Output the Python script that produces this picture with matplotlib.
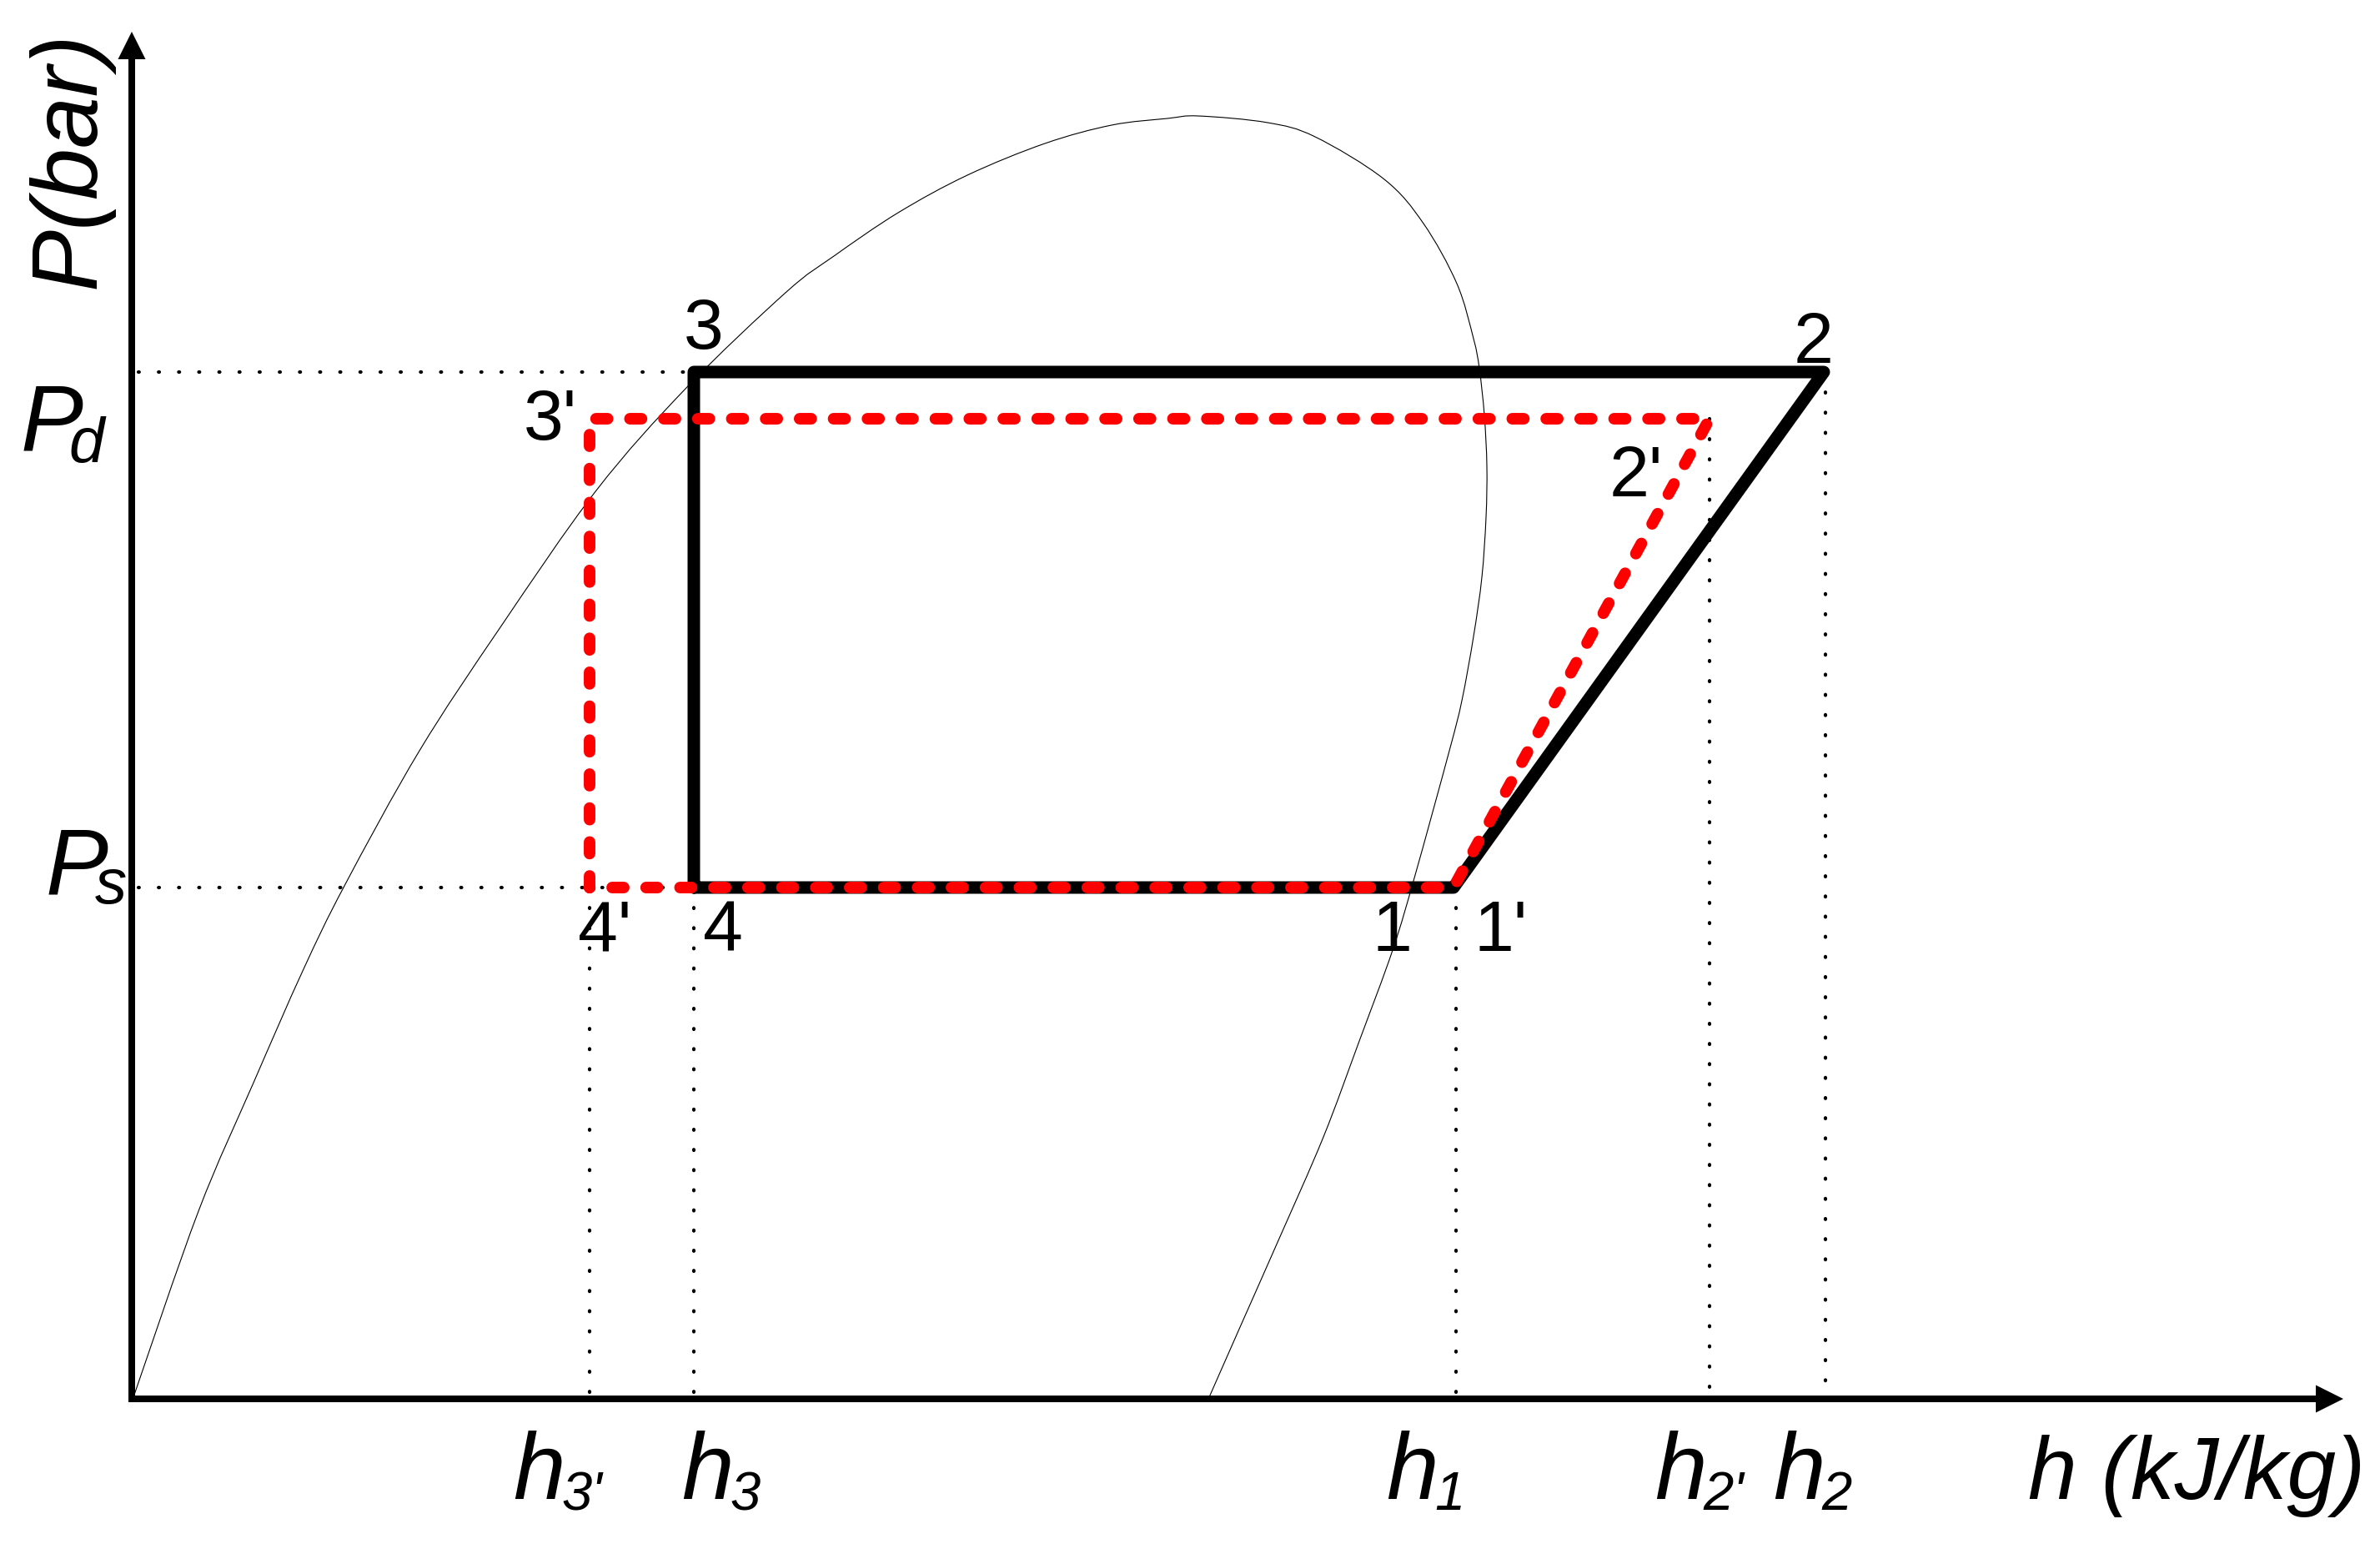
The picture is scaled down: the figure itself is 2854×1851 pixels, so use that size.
import matplotlib
matplotlib.use("Agg")
from matplotlib import pyplot as plt
from matplotlib.path import Path
from matplotlib.patches import PathPatch

plt.rcParams['font.family'] = ['Liberation Sans', 'DejaVu Sans']

# cycle states (schematic units, origin at the axes corner)
h3p, h3, h1, h2p, h2 = 549, 674, 1585, 1892, 2029
P_s, P_d, P_dp = 613, 1231, 1175

cycle_h = [h3, h3, h2, h1, h3]
cycle_P = [P_s, P_d, P_d, P_s, P_s]
cycle2_h = [h3p, h3p, h2p, h1, h3p]
cycle2_P = [P_s, P_dp, P_dp, P_s, P_s]

# saturation dome
dome_h = [2, 80, 146, 205, 255, 345, 442, 557, 665, 785, 842, 919, 1002, 1095,
          1175, 1242, 1279, 1362, 1419, 1502, 1549, 1589, 1609, 1616, 1622, 1625,
          1624, 1619, 1609, 1595, 1580, 1539, 1512, 1472, 1429, 1375, 1329, 1292]
dome_P = [2, 225, 379, 513, 615, 777, 925, 1089, 1212, 1327, 1370, 1422, 1467, 1505,
          1527, 1535, 1538, 1530, 1513, 1462, 1409, 1337, 1271, 1235, 1179, 1118,
          1057, 985, 914, 837, 777, 628, 538, 429, 314, 190, 86, 2]

x_end, y_end = 2652, 1639


def smooth_path(xs, ys):
    # catmull-rom through the read points, drawn as cubic beziers
    pts = list(zip(xs, ys))
    n = len(pts)
    verts = [pts[0]]
    codes = [Path.MOVETO]
    for i in range(n - 1):
        p0 = pts[max(i - 1, 0)]
        p1 = pts[i]
        p2 = pts[i + 1]
        p3 = pts[min(i + 2, n - 1)]
        c1 = (p1[0] + (p2[0] - p0[0]) / 6, p1[1] + (p2[1] - p0[1]) / 6)
        c2 = (p2[0] - (p3[0] - p1[0]) / 6, p2[1] - (p3[1] - p1[1]) / 6)
        verts += [c1, c2, p2]
        codes += [Path.CURVE4] * 3
    return Path(verts, codes)


fig = plt.figure(figsize=(28.54, 18.51), dpi=100)
ax = fig.add_axes([0, 0, 1, 1])
ax.set_xlim(-158, 2696)
ax.set_ylim(-174, 1677)
ax.axis('off')

# dome
ax.add_patch(PathPatch(smooth_path(dome_h, dome_P), fill=False, edgecolor='k', lw=0.8))

# dotted guide lines
dot = dict(color='k', lw=3, dashes=(0.2, 5.6), dash_capstyle='round')
ax.plot([8, h3], [P_d, P_d], **dot)
ax.plot([8, h3], [P_s, P_s], **dot)
ax.plot([h3p, h3p], [P_s, 0], **dot)
ax.plot([h3, h3], [P_s, 0], **dot)
ax.plot([h1 + 3, h1 + 3], [P_s, 0], **dot)
ax.plot([h2p, h2p], [P_dp, 0], **dot)
ax.plot([h2 + 2, h2 + 2], [P_d, 0], **dot)

# cycles
ax.plot(cycle_h, cycle_P, color='k', lw=10.8, solid_joinstyle='round', solid_capstyle='round')
ax.plot(cycle2_h, cycle2_P, color='#ff0000', lw=10, dashes=(1.0, 1.93),
        dash_capstyle='round', dash_joinstyle='round')

# axes with arrows
ax.arrow(0, -4, 0, y_end + 4, width=8, head_width=33, head_length=33,
         length_includes_head=True, color='k', lw=0)
ax.arrow(-4, 0, x_end + 4, 0, width=8, head_width=33, head_length=33,
         length_includes_head=True, color='k', lw=0)

# point labels
pts = [('3', 662, 1259), ("3'", 470, 1150), ('2', 1993, 1242), ("2'", 1772, 1082),
       ("4'", 535, 537), ('4', 685, 537), ('1', 1487, 537), ("1'", 1610, 537)]
for s, x, y in pts:
    ax.text(x, y, s, fontsize=62, ha='left', va='baseline')

it = dict(fontstyle='italic', ha='left', va='baseline')

# h labels with subscripts
hlabels = [(457, "3'"), (659, '3'), (1504, '1'), (1826, "2'"), (1968, '2')]
for x, sub in hlabels:
    ax.text(x, -120, 'h', fontsize=81, **it)
    ax.text(x + 58, -133, sub, fontsize=47, **it)
ax.text(2274, -120, 'h (kJ/kg)', fontsize=76, **it)

# pressure labels
ax.text(-133, 1137, 'P', fontsize=81, **it)
ax.text(-76, 1123, 'd', fontsize=55, **it)
ax.text(-103, 605, 'P', fontsize=81, **it)
ax.text(-44, 594, 's', fontsize=55, **it)
ax.text(-73, 1485, 'P(bar)', fontsize=80, fontstyle='italic', rotation=90,
        ha='center', va='center')

fig.savefig('out.png', dpi=100)
